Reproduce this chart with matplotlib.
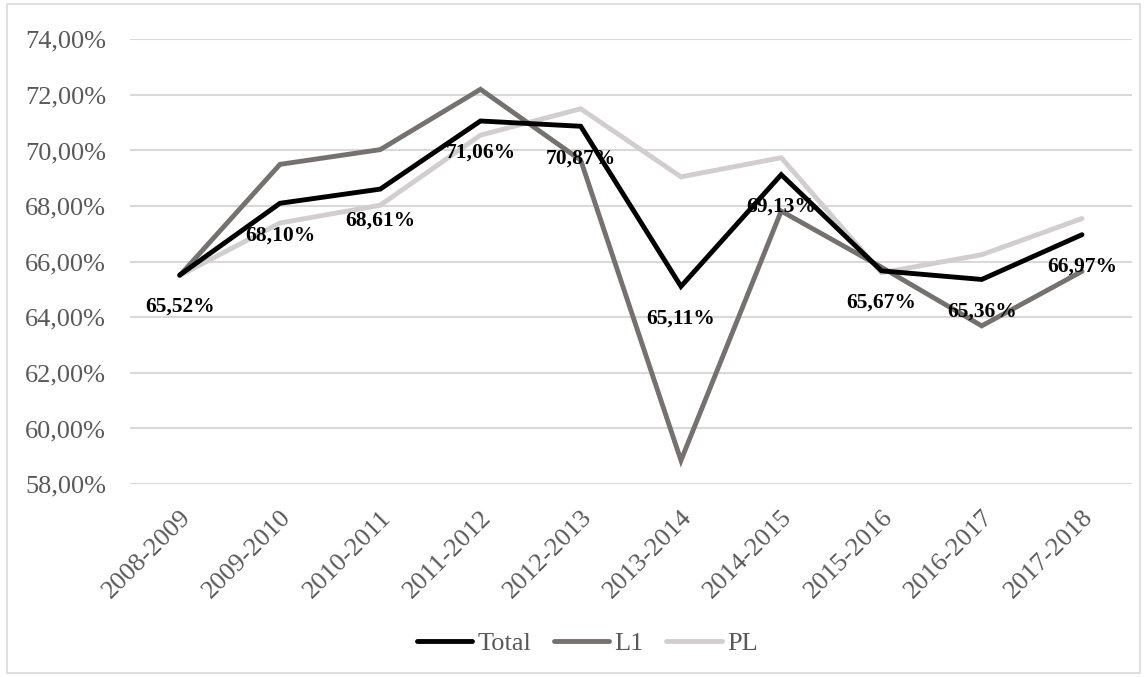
import matplotlib.pyplot as plt
from matplotlib.patches import Rectangle
from matplotlib.ticker import FuncFormatter

plt.rcParams['font.family'] = ['Liberation Serif', 'DejaVu Serif']

seasons = ['2008-2009', '2009-2010', '2010-2011', '2011-2012', '2012-2013',
           '2013-2014', '2014-2015', '2015-2016', '2016-2017', '2017-2018']
total = [65.52, 68.10, 68.61, 71.06, 70.87, 65.11, 69.13, 65.67, 65.36, 66.97]
l1 = [65.50, 69.50, 70.03, 72.20, 69.65, 58.85, 67.82, 65.80, 63.69, 65.65]
pl = [65.50, 67.39, 68.03, 70.55, 71.50, 69.05, 69.74, 65.60, 66.25, 67.55]


def pct(v, pos=None):
    return f'{v:.2f}%'.replace('.', ',')


fig = plt.figure(figsize=(11.47, 6.77), dpi=100)
ax = fig.add_axes([0.113, 0.285, 0.874, 0.657])

x = range(len(seasons))
style = dict(lw=3.5, solid_capstyle='round', solid_joinstyle='miter')
ax.plot(x, total, color='black', label='Total', zorder=4, **style)
ax.plot(x, l1, color='#767171', label='L1', zorder=3, **style)
ax.plot(x, pl, color='#d0cece', label='PL', zorder=2, **style)

# data labels below the Total points
for i, v in enumerate(total):
    ax.annotate(pct(v), (i, v), xytext=(0, -23), textcoords='offset points',
                ha='center', va='center', fontsize=15.5, fontweight='bold',
                color='black', zorder=5)

ax.set_xlim(-0.5, 9.5)
ax.set_ylim(58, 74)
ax.set_yticks(range(58, 75, 2))
ax.yaxis.set_major_formatter(FuncFormatter(pct))
ax.set_xticks(list(x))
ax.set_xticklabels(seasons, rotation=45, ha='right', rotation_mode='anchor')
ax.tick_params(axis='both', length=0, labelsize=19, labelcolor='#595959')
ax.tick_params(axis='x', pad=16)
ax.tick_params(axis='y', pad=17)
ax.grid(axis='y', color='#d9d9d9', lw=1.5)
ax.set_axisbelow(True)
for s in ax.spines.values():
    s.set_visible(False)

fig.legend(loc='center', bbox_to_anchor=(0.512, 0.05), ncol=3, frameon=False,
           fontsize=19, handlelength=2.1, handletextpad=0.2, columnspacing=0.85,
           labelcolor='#595959')

fig.patches.append(Rectangle((0.006, 0.006), 0.988, 0.988, transform=fig.transFigure,
                             fill=False, edgecolor='#d9d9d9', lw=1.2))

fig.savefig('out.png', dpi=100)
